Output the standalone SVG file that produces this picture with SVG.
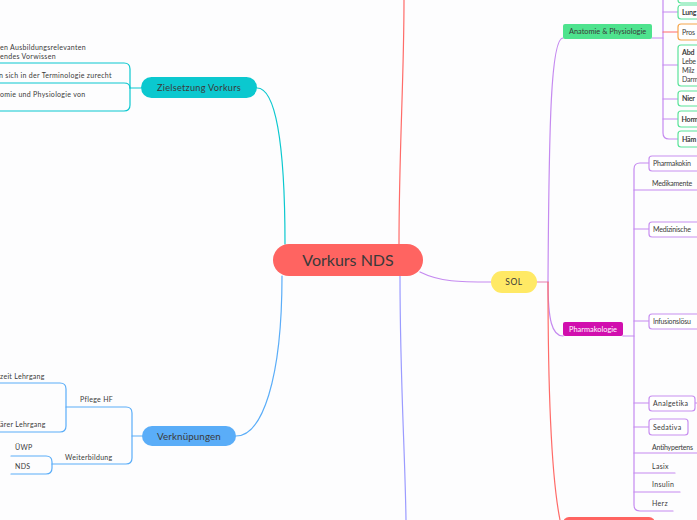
<svg xmlns="http://www.w3.org/2000/svg" width="697" height="520" viewBox="0 0 697 520">
<style>
text{font-family:Lato,"Noto Sans","Liberation Sans",sans-serif;fill:#3a3a3a}
.s{font-size:7px;letter-spacing:0.3px}
.b{font-weight:bold}
.t{letter-spacing:-0.2px}
.c{fill:none;stroke-width:1.2;stroke-linecap:round}
.cy{stroke:#0bc8cf}
.bl{stroke:#5aadf8}
.pu{stroke:#c58af0}
.rd{stroke:#ff6b68}
.gbox{fill:#fff;stroke:#5be39a;stroke-width:1.2}
.pbox{fill:#fff;stroke:#c88ff0;stroke-width:1.2}
</style>
<rect width="697" height="520" fill="#fdfdfe"/>
<g id="connectors">
  <path class="c rd" d="M399,244 C399,150 404,80 404,0"/>
  <path class="c" stroke="#9b9bff" d="M400,276 C400,380 405,450 406,520"/>
  <path class="c cy" d="M285,244 C285,140 275,88 257,88"/>
  <path class="c bl" d="M282,276 C282,380 262,436 236,436"/>
  <path class="c pu" d="M420,272 C440,282 460,282 491,282"/>
  <path class="c" stroke="#e67fb0" d="M537,282 L548,282"/>
  <path class="c pu" d="M548,282 C549,120 551,38 563,38"/>
  <path class="c pu" d="M548,282 C548,320 552,336 563,336"/>
  <path class="c rd" d="M548,282 C548,400 552,480 560,520"/>
  <path class="c pu" d="M652,38 L663,38"/>
  <path class="c pu" d="M663,0 L663,133 Q663,139 669,139 L678,139"/>
  <path class="c pu" d="M663,-4 L678,-4"/>
  <path class="c pu" d="M663,12 L678,12"/>
  <path class="c rd" d="M663,32 L678,32"/>
  <path class="c pu" d="M663,65 L678,65"/>
  <path class="c pu" d="M663,99 L678,99"/>
  <path class="c pu" d="M663,119 L678,119"/>
  <path class="c pu" d="M623,336 L634,336"/>
  <path class="c pu" d="M649,163 L640,163 Q634,163 634,169 L634,505 Q634,511 640,511 L673,511"/>
  <path class="c pu" d="M634,190 L697,190"/>
  <path class="c pu" d="M634,229 L649,229"/>
  <path class="c pu" d="M634,321 L649,321"/>
  <path class="c pu" d="M634,403 L649,403"/>
  <path class="c pu" d="M695,403 L697,403"/>
  <path class="c pu" d="M634,427 L649,427"/>
  <path class="c pu" d="M634,453 L697,453"/>
  <path class="c pu" d="M634,473 L675,473"/>
  <path class="c pu" d="M634,492 L680,492"/>
  <path class="c cy" d="M141,88 L130,88"/>
  <path class="c cy" d="M0,63 L124,63 Q130,63 130,69 L130,105 Q130,111 124,111 L0,111"/>
  <path class="c cy" d="M0,83 L124,83 Q130,83 130,88"/>
  <path class="c bl" d="M142,436 L132,436"/>
  <path class="c bl" d="M66,407 L126,407 Q132,407 132,413 L132,458 Q132,464 126,464 L52,464"/>
  <path class="c bl" d="M0,383 L60,383 Q66,383 66,389 L66,426 Q66,432 60,432 L0,432"/>
  <path class="c bl" d="M11,456 L46,456 Q52,456 52,462 L52,468 Q52,474 46,474 L11,474"/>
</g>
<g id="root">
  <rect x="273" y="244" width="150" height="32" rx="16" fill="#ff6461"/>
  <text x="348" y="265.5" font-size="16" text-anchor="middle">Vorkurs NDS</text>
</g>
<g id="sol">
  <rect x="491" y="271" width="46" height="22" rx="11" fill="#ffe965"/>
  <text x="514" y="285" font-size="8.5" text-anchor="middle" letter-spacing="0.5">SOL</text>
</g>
<g id="zielsetzung">
  <rect x="141" y="77" width="116" height="21" rx="10.5" fill="#0bc8cf"/>
  <text x="199" y="91" font-size="9.2" text-anchor="middle" letter-spacing="0.25">Zielsetzung Vorkurs</text>
</g>
<g id="ziel-1"><text class="s" x="0" y="49.5">en Ausbildungsrelevanten</text><text class="s" x="0" y="58.5">endes Vorwissen</text></g>
<g id="ziel-2"><text class="s" x="-1" y="77.5">n sich in der Terminologie zurecht</text></g>
<g id="ziel-3"><text class="s" x="0" y="96.5">omie und Physiologie von</text></g>
<g id="verknuepungen">
  <rect x="142" y="426" width="94" height="20" rx="10" fill="#5aadf8"/>
  <text x="189" y="439.5" font-size="9.8" text-anchor="middle" letter-spacing="0.1">Verknüpungen</text>
</g>
<g id="pflege-hf"><text class="s" x="80" y="402">Pflege HF</text></g>
<g id="pflege-1"><text class="s" x="0" y="378.5">zeit Lehrgang</text></g>
<g id="pflege-2"><text class="s" x="0" y="426.5">ärer Lehrgang</text></g>
<g id="weiterbildung"><text class="s" x="65" y="460">Weiterbildung</text></g>
<g id="uewp"><text class="s" x="15" y="450">ÜWP</text></g>
<g id="nds"><text class="s" x="15" y="469">NDS</text></g>
<g id="anatomie">
  <rect x="563" y="24" width="89" height="15" rx="2" fill="#4ee38e"/>
  <text x="607.5" y="34.3" font-size="7.4" text-anchor="middle">Anatomie &amp; Physiologie</text>
</g>
<g id="ap-0"><rect class="gbox" x="678" y="-12" width="40" height="15" rx="3"/></g>
<g id="ap-lunge"><rect class="gbox" x="678" y="5" width="40" height="14" rx="3"/><text class="s b t" x="682" y="14.5">Lung</text></g>
<g id="ap-prostata"><rect x="678" y="24" width="40" height="16" rx="3" fill="#fff" stroke="#f5a54a" stroke-width="1.2"/><text class="s t" x="682" y="34.5">Pros</text></g>
<g id="ap-abdomen"><rect class="gbox" x="678" y="45" width="40" height="41" rx="3"/><text class="s b t" x="682" y="54.5">Abd</text><text class="s t" x="682" y="63.5">Lebe</text><text class="s t" x="682" y="72.5">Milz</text><text class="s t" x="682" y="81.5" font-size="6.6">Darm</text></g>
<g id="ap-niere"><rect class="gbox" x="678" y="91" width="40" height="15" rx="3"/><text class="s b t" x="682" y="101">Nier</text></g>
<g id="ap-hormone"><rect class="gbox" x="678" y="111" width="40" height="16" rx="3"/><text class="s b t" x="681.5" y="121.5" font-size="6.1">Horm</text></g>
<g id="ap-haem"><rect class="gbox" x="678" y="131" width="40" height="16" rx="3"/><text class="s b t" x="682" y="141.5">Häm</text></g>
<g id="pharmakologie">
  <rect x="563" y="322" width="60" height="14" rx="2" fill="#d10fae"/>
  <text x="593" y="331.6" font-size="7.4" text-anchor="middle" style="fill:#fff">Pharmakologie</text>
</g>
<g id="ph-kinetik"><rect class="pbox" x="649" y="156" width="70" height="15" rx="3"/><text class="s t" x="653" y="166">Pharmakokin</text></g>
<g id="ph-medikamente"><text class="s t" x="652" y="185.5">Medikamente</text></g>
<g id="ph-medizinisch"><rect class="pbox" x="649" y="222" width="70" height="15" rx="3"/><text class="s t" x="653" y="232">Medizinische</text></g>
<g id="ph-infusion"><rect class="pbox" x="649" y="314" width="70" height="15" rx="3"/><text class="s t" x="653" y="324">Infusionslösu</text></g>
<g id="ph-analgetika"><rect class="pbox" x="649" y="396" width="46" height="15" rx="3"/><text class="s" x="653" y="406">Analgetika</text></g>
<g id="ph-sedativa"><rect class="pbox" x="649" y="419" width="39" height="16" rx="3"/><text class="s" x="653" y="429.5">Sedativa</text></g>
<g id="ph-antihyp"><text class="s t" x="652" y="449.5">Antihypertens</text></g>
<g id="ph-lasix"><text class="s" x="652" y="468.5">Lasix</text></g>
<g id="ph-insulin"><text class="s" x="652" y="486.5">Insulin</text></g>
<g id="ph-herz"><text class="s" x="652" y="505.5">Herz</text></g>
<g id="bottom-node"><rect x="563" y="517" width="92" height="20" rx="6" fill="#ff6461"/></g>
</svg>
